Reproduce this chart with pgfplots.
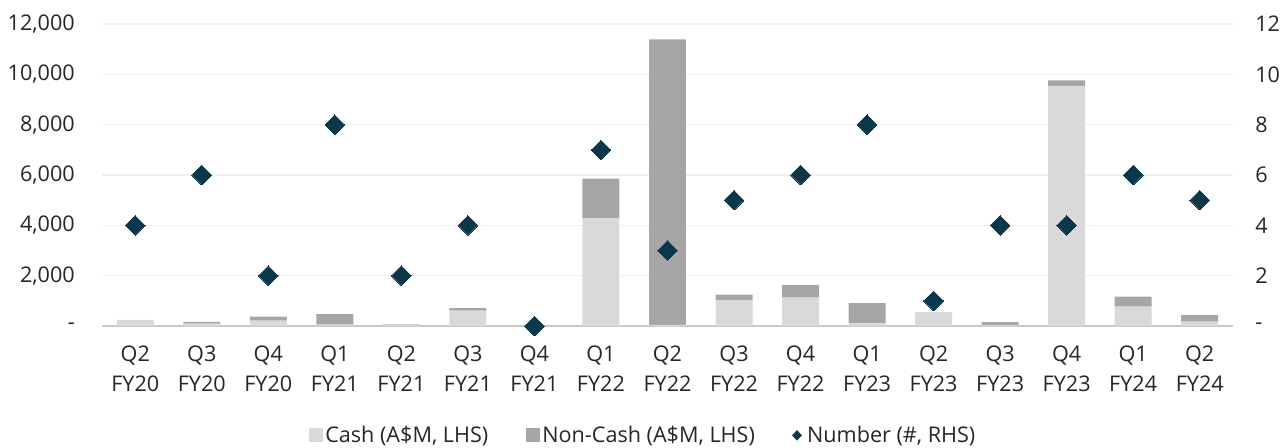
\documentclass[border=0pt]{standalone}
\usepackage{pgfplots}
\pgfplotsset{compat=1.18}
\usepackage{pgfplotstable}
\usepackage{fontspec}
\setmainfont{Open Sans}
\definecolor{cashc}{RGB}{217,217,217}
\definecolor{noncashc}{RGB}{166,166,166}
\definecolor{numc}{RGB}{11,55,75}
\definecolor{txt}{RGB}{38,38,38}
\definecolor{gridc}{RGB}{240,240,240}
\definecolor{basec}{RGB}{200,200,200}

\pgfplotstableread{
x cash noncash num
0 240 0 4
1 95 65 6
2 210 160 2
3 50 425 8
4 50 20 2
5 610 100 4
6 0 0 0
7 4290 1570 7
8 40 11350 3
9 1025 225 5
10 1130 500 6
11 100 810 8
12 550 0 1
13 30 120 4
14 9540 220 4
15 766 400 6
16 170 265 5
}\datatable

\begin{document}
\begin{tikzpicture}
\pgfplotsset{
  every axis/.append style={
    scale only axis,
    width=848.25pt, height=226.5pt,
    xmin=-0.5, xmax=16.5,
    font=\fontsize{16.2}{23}\selectfont,
    tick label style={text=txt},
    /pgf/number format/assume math mode=true,
    major tick length=0pt,
    scaled y ticks=false,
  }
}
\begin{axis}[
  name=main,
  ymin=0, ymax=12000,
  ytick={0,2000,4000,6000,8000,10000,12000},
  yticklabels={-,{2,000},{4,000},{6,000},{8,000},{10,000},{12,000}},
  yticklabel style={anchor=east, inner sep=0pt, xshift=-20.25pt},
  xtick={0,...,16},
  xticklabels={{Q2\\FY20},{Q3\\FY20},{Q4\\FY20},{Q1\\FY21},{Q2\\FY21},{Q3\\FY21},{Q4\\FY21},{Q1\\FY22},{Q2\\FY22},{Q3\\FY22},{Q4\\FY22},{Q1\\FY23},{Q2\\FY23},{Q3\\FY23},{Q4\\FY23},{Q1\\FY24},{Q2\\FY24}},
  xticklabel style={align=center, yshift=-11pt},
  axis x line*=bottom, axis y line*=left,
  x axis line style={draw=basec, line width=1.2pt},
  y axis line style={draw=none},
  ymajorgrids, grid style={draw=gridc, line width=0.9pt},
  ybar stacked, bar width=0.556,
  legend style={at={(406pt,-82pt)}, anchor=center, draw=none, fill=none,
    inner sep=0pt,
    legend columns=3, font=\fontsize{16.2}{19}\selectfont, text=txt,
    /tikz/every even column/.append style={column sep=26pt},
    legend cell align=left},
]
\addplot[fill=cashc, draw=none, area legend,
  legend image code/.code={\fill[cashc] (0pt,-5.25pt) rectangle (10.5pt,5.25pt);}]
  table[x=x, y=cash] {\datatable};
\addlegendentry{Cash (A\$M, LHS)}
\addplot[fill=noncashc, draw=none, area legend,
  legend image code/.code={\fill[noncashc] (0pt,-5.25pt) rectangle (10.5pt,5.25pt);}]
  table[x=x, y=noncash] {\datatable};
\addlegendentry{Non-Cash (A\$M, LHS)}
\addlegendimage{legend image code/.code={\path[draw=none,fill=none] (0pt,0pt) -- (9pt,0pt);\fill[numc] (0pt,0pt) -- (3.4pt,3.6pt) -- (6.8pt,0pt) -- (3.4pt,-3.6pt) -- cycle;}}
\addlegendentry{Number (\#, RHS)}
\end{axis}
\begin{axis}[
  ymin=0, ymax=12,
  ytick={0,2,4,6,8,10,12},
  yticklabels={-,2,4,6,8,10,12},
  yticklabel style={anchor=west, inner sep=0pt, xshift=16.5pt},
  axis y line*=right, axis x line=none,
  y axis line style={draw=none},
  xtick=\empty,
]
\addplot[only marks, mark=square*, mark size=5.2pt, mark options={rotate=45, fill=numc, draw=numc, line width=0pt}]
  table[x=x, y=num] {\datatable};
\end{axis}
\path (main.south west) ++(-76.5pt,-90.75pt) coordinate (bl);
\path (main.south west) ++(885.75pt,244.5pt) coordinate (tr);
\pgfresetboundingbox
\useasboundingbox (bl) rectangle (tr);
\end{tikzpicture}
\end{document}
